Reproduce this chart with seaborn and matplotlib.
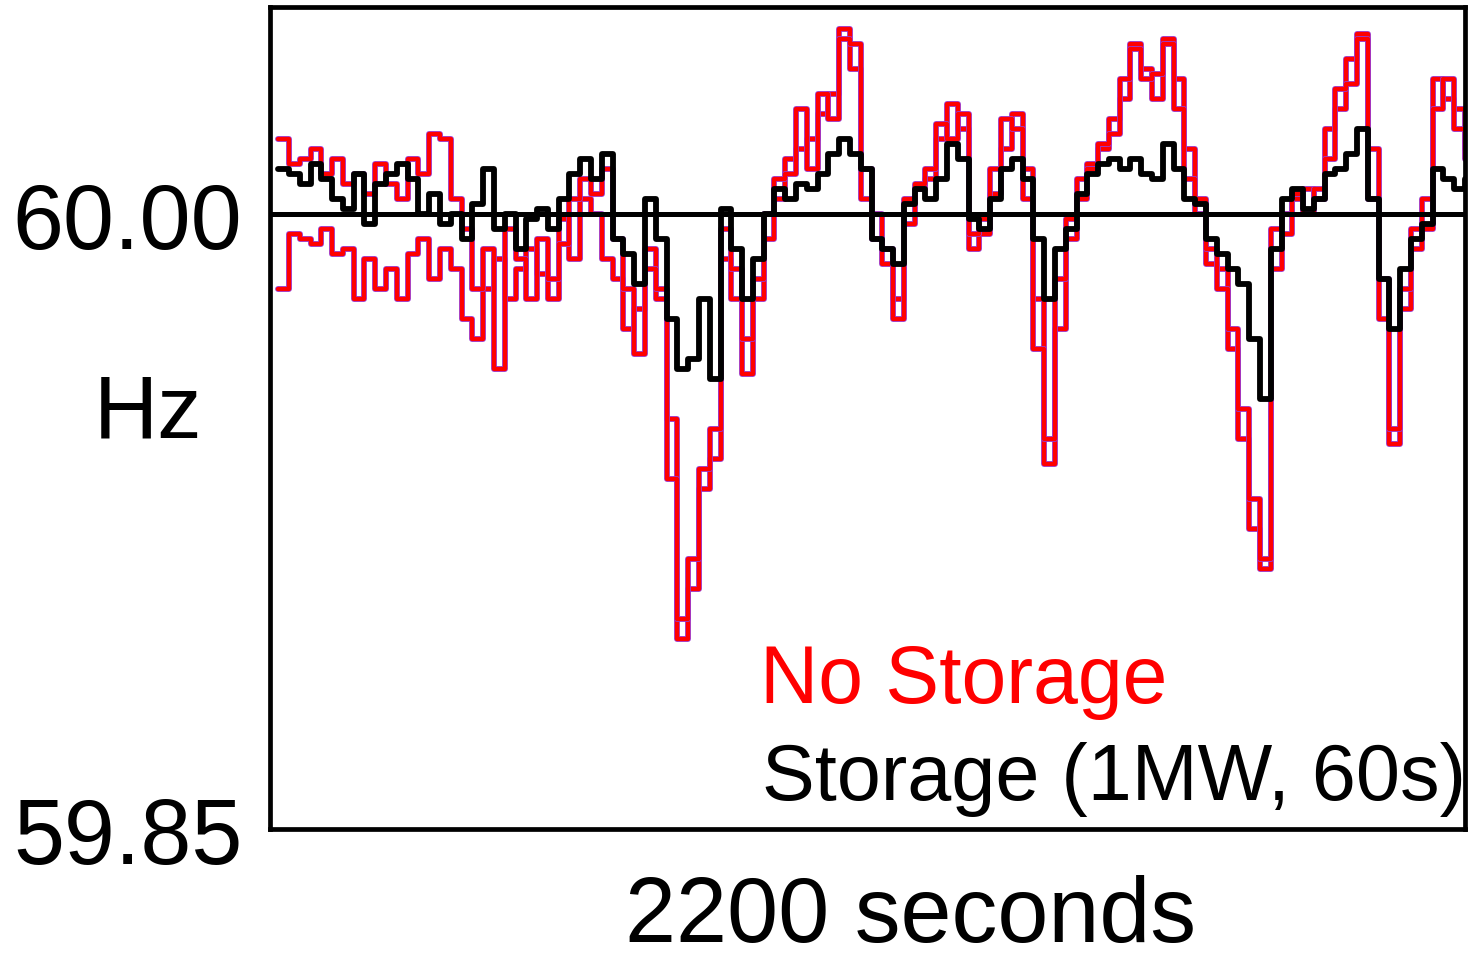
import numpy as np
import pandas as pd
import matplotlib
matplotlib.use('Agg')
import matplotlib.pyplot as plt
import seaborn as sns

# tempo (s), uma amostra a cada 20 s ao longo de 2200 s
tempo = np.arange(0, 2201, 20)

# desvio de frequencia em mHz em torno de 60 Hz
sem_armazenamento_1 = [18.3, 12.2, 13.4, 15.9, 9.8, 13.4, 7.3, 9.8, 4.9, 12.2,
                       7.3, 3.7, 13.4, 9.8, 19.5, 18.3, 3.7, -3.7, -18.3, -8.5,
                       -37.8, -3.7, -11.0, -20.7, -6.1, -15.9, -7.3, 3.7, 8.5, 4.9,
                       11.0, -6.1, -18.3, -34.2, -13.4, -18.3, -64.7, -98.8, -84.2, -62.2,
                       -52.5, -3.7, -13.4, -30.5, -15.9, 0.0, 8.5, 9.8, 25.6, 11.0,
                       29.3, 23.2, 42.7, 41.5, 11.0, -6.1, -8.5, -25.6, 3.7, 7.3,
                       11.0, 22.0, 18.3, 24.4, -4.9, -1.2, 11.0, 23.2, 20.7, 3.7,
                       -32.9, -54.9, -15.9, -1.2, 8.5, 11.0, 17.1, 19.5, 32.9, 40.3,
                       32.9, 34.2, 41.5, 25.6, 8.5, 3.7, -8.5, -18.3, -28.1, -47.6,
                       -69.5, -84.2, -3.7, 0.0, 4.9, 0.0, 6.1, 13.4, 30.5, 31.7,
                       42.7, 3.7, -25.6, -52.5, -18.3, -3.7, 3.7, 25.6, 32.9, 20.7, 13.4]

sem_armazenamento_2 = [-18.3, -4.9, -6.1, -7.3, -3.7, -9.8, -8.5, -20.7, -11.0, -18.3,
                       -13.4, -20.7, -9.8, -6.1, -15.9, -8.5, -13.4, -25.6, -30.5, -18.3,
                       -11.0, -20.7, -13.4, -8.5, -14.6, -20.7, -1.2, -11.0, 3.7, 0.0,
                       -11.0, -15.9, -28.1, -23.2, -8.5, -20.7, -50.0, -103.7, -91.5, -67.1,
                       -59.8, -11.0, -20.7, -39.0, -20.7, -6.1, 3.7, 13.4, 15.9, 18.3,
                       24.4, 29.3, 45.1, 35.4, 3.7, 0.0, -12.2, -20.7, -2.4, 6.1,
                       8.5, 18.3, 26.8, 20.7, -8.5, -4.9, 4.9, 15.9, 24.4, 11.0,
                       -20.7, -61.0, -28.1, -6.1, 3.7, 12.2, 15.9, 23.2, 28.1, 41.5,
                       35.4, 28.1, 42.7, 32.9, 15.9, 0.0, -12.2, -13.4, -32.9, -54.9,
                       -76.9, -86.6, -13.4, -4.9, 3.7, 6.1, 3.7, 20.7, 25.6, 37.8,
                       43.9, 15.9, -15.9, -56.1, -23.2, -8.5, -3.7, 32.9, 28.1, 25.6, 15.9]

com_armazenamento = [11.0, 9.8, 7.3, 12.2, 8.5, 3.7, 1.2, 9.8, -2.4, 7.3,
                     9.8, 12.2, 8.5, 0.0, 4.9, -2.4, 0.0, -6.1, 2.4, 11.0,
                     -3.7, 0.0, -8.5, -1.2, 1.2, -3.7, 3.7, 9.8, 13.4, 8.5,
                     14.6, -6.1, -9.8, -17.1, 3.7, -6.1, -25.6, -37.8, -35.4, -20.7,
                     -40.3, 1.2, -8.5, -20.7, -11.0, 0.0, 6.1, 3.7, 7.3, 6.1,
                     9.8, 14.6, 18.3, 14.6, 11.0, -6.1, -8.5, -12.2, 2.4, 6.1,
                     3.7, 8.5, 17.1, 13.4, -1.2, -3.7, 3.7, 11.0, 13.4, 8.5,
                     -6.1, -20.7, -8.5, -3.7, 4.9, 9.8, 12.2, 13.4, 11.0, 13.4,
                     9.8, 8.5, 17.1, 11.0, 3.7, 2.4, -6.1, -9.8, -13.4, -17.1,
                     -30.5, -45.1, -8.5, 3.7, 6.1, 1.2, 3.7, 9.8, 11.0, 14.6,
                     20.7, 3.7, -15.9, -28.1, -13.4, -6.1, -2.4, 11.0, 8.5, 6.1, 8.5]

dados = pd.DataFrame({
    'Tempo': tempo,
    'Sem 1': 60 + np.array(sem_armazenamento_1) / 1000,
    'Sem 2': 60 + np.array(sem_armazenamento_2) / 1000,
    'Com': 60 + np.array(com_armazenamento) / 1000,
})

sns.set_style('white')
plt.rcParams['font.family'] = ['Liberation Sans', 'DejaVu Sans']
plt.rcParams['text.color'] = 'black'
plt.rcParams['axes.labelcolor'] = 'black'
plt.rcParams['ytick.color'] = 'black'

fig = plt.figure(figsize=(14.79, 9.62), dpi=100)
ax = fig.add_axes([0.1826, 0.1372, 0.8079, 0.8545])

# tracos sem armazenamento (vermelho com borda roxa)
for col in ['Sem 2', 'Sem 1']:
    sns.lineplot(data=dados, x='Tempo', y=col, ax=ax, color='#9a3ad0', linewidth=4.2,
                 drawstyle='steps-post', sort=False, estimator=None)
    sns.lineplot(data=dados, x='Tempo', y=col, ax=ax, color='#ff0000', linewidth=3.0,
                 drawstyle='steps-post', sort=False, estimator=None)

ax.axhline(60.0, color='black', linewidth=3.6, zorder=3)

sns.lineplot(data=dados, x='Tempo', y='Com', ax=ax, color='black', linewidth=4.2,
             drawstyle='steps-post', sort=False, estimator=None, zorder=4)

ax.set_xlim(-15, 2200)
ax.set_ylim(59.85, 60.0505)
ax.set_xticks([])
ax.set_yticks([59.85, 60.00])
ax.set_yticklabels(['59.85', '60.00'])
ax.tick_params(axis='y', length=0, pad=20, labelsize=66, labelcolor='black')

for s in ax.spines.values():
    s.set_visible(True)
    s.set_color('black')
    s.set_linewidth(3.4)

ax.set_ylabel('Hz', rotation=0, fontsize=64, color='black')
ax.yaxis.set_label_coords(-0.102, 0.505)
ax.yaxis.label.set_va('center')
ax.yaxis.label.set_ha('center')

ax.set_xlabel('2200 seconds', fontsize=66, color='black')
ax.xaxis.set_label_coords(0.5356, -0.136)
ax.xaxis.label.set_va('baseline')

ax.text(0.41, 0.1545, 'No Storage', color='#ff0000', fontsize=58,
        transform=ax.transAxes, va='baseline', ha='left')
ax.text(0.4117, 0.0365, 'Storage (1MW, 60s)', color='black', fontsize=57,
        transform=ax.transAxes, va='baseline', ha='left')

fig.savefig('out.png', dpi=100)
